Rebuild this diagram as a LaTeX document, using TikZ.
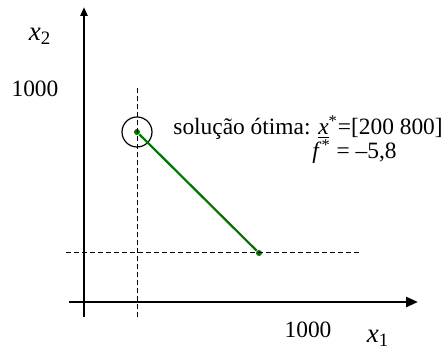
\documentclass[tikz,border=0pt]{standalone}
\usepackage{fontspec}
\setmainfont{Liberation Serif}
\usetikzlibrary{arrows.meta}

\begin{document}
\begin{tikzpicture}[x=0.5pt, y=-0.5pt,
  axis/.style={line width=1.3pt},
  guide/.style={line width=0.5pt, dash pattern=on 2.5pt off 1.5pt},
  seg/.style={line width=1.1pt, draw=green!45!black},
  dot/.style={circle, fill=green!45!black, inner sep=0pt, minimum size=3pt},
  lbl/.style={font=\fontsize{11.7}{14}\selectfont, inner sep=0pt},
  var/.style={font=\fontsize{13.5}{16}\selectfont, inner sep=0pt}
]
  \useasboundingbox (0,0) rectangle (444,356);
  \coordinate (ybot) at (84,317);
  \coordinate (ytop) at (84,7);
  \coordinate (xlft) at (69,302);
  \coordinate (xrgt) at (418,302);
  \coordinate (vtop) at (137,88);
  \coordinate (vbot) at (137,317);
  \coordinate (hlft) at (66,253);
  \coordinate (hrgt) at (360,253);

  \node[dot] (opt) at (137,132) {};
  \node[dot] (vtx) at (259,253) {};
  \node[circle, draw, line width=0.6pt, minimum size=15pt, inner sep=0pt] (ring) at (opt) {};

  \draw[axis, -{Triangle[length=4.5pt, width=3.5pt]}] (ybot) -- (ytop);
  \draw[axis, -{Triangle[length=6pt, width=5pt]}] (xlft) -- (xrgt);
  \draw[guide] (vtop) -- (vbot);
  \draw[guide] (hlft) -- (hrgt);
  \draw[seg] (opt) -- (vtx);

  \node[var] (x2lbl) at (40,36) {\textit{x}\textsubscript{2}};
  \node[lbl] (ytick) at (35,89) {1000};
  \node[lbl, anchor=base west] (sol) at (173,135) {solução ótima: \underline{\textit{x}}\textsuperscript{*}=[200 800]};
  \node[lbl, anchor=base west] (fval) at (312,159) {\textit{f}\textsuperscript{*} = –5,8};
  \node[lbl] (xtick) at (308,330) {1000};
  \node[var] (x1lbl) at (378,338) {\textit{x}\textsubscript{1}};
\end{tikzpicture}
\end{document}
